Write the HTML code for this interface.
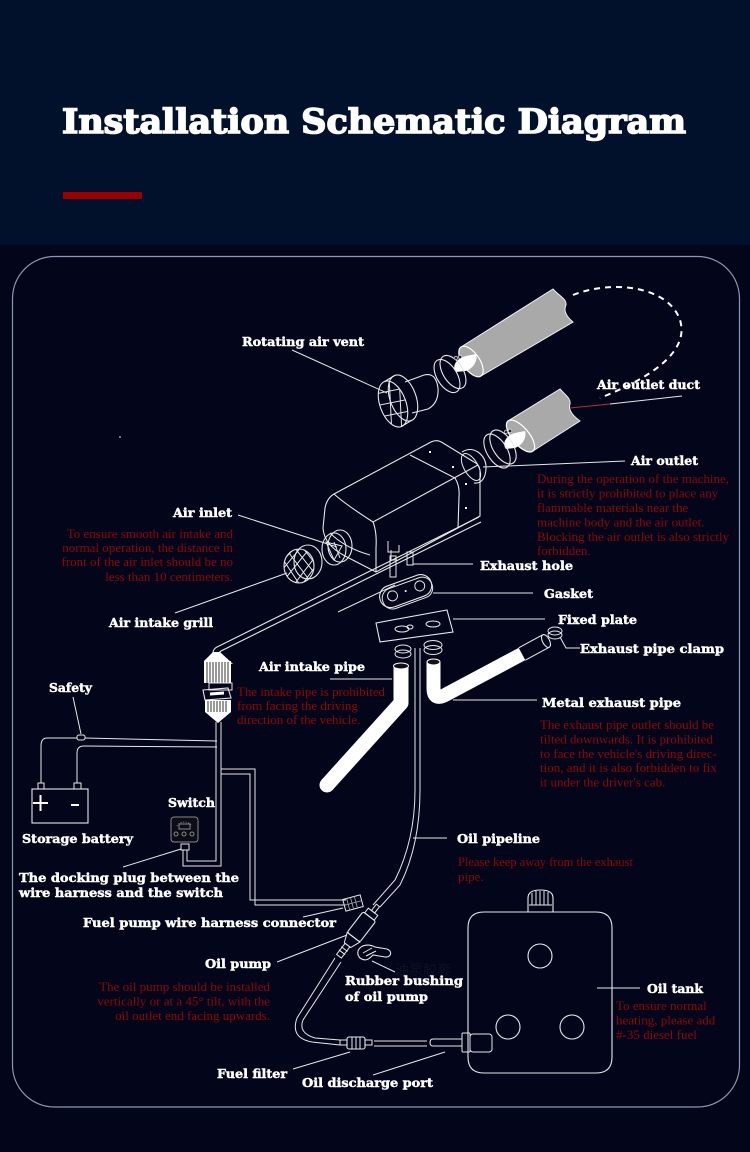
<!DOCTYPE html>
<html><head><meta charset="utf-8">
<style>
html,body{margin:0;padding:0;background:#03051a;}
svg{display:block}
.w{font-family:"DejaVu Serif","Liberation Serif",serif;font-weight:bold;fill:#ffffff;font-size:12px;stroke:#ffffff;stroke-width:0.45px}
.r{font-family:"Liberation Serif",serif;fill:#900606;font-size:13px}
.l{stroke:#e8e8e8;stroke-width:1.1;fill:none}
.t{stroke:#e8e8e8;stroke-width:1;fill:none}
</style></head><body>
<svg width="750" height="1152" viewBox="0 0 750 1152" xmlns="http://www.w3.org/2000/svg">
<defs>
<clipPath id="vc"><ellipse cx="393" cy="404" rx="13" ry="24" transform="rotate(-20 393 404)"/></clipPath>
<clipPath id="gc"><ellipse cx="299" cy="566" rx="15" ry="17"/></clipPath>
</defs>
<rect width="750" height="1152" fill="#03051a"/>
<rect width="750" height="245" fill="#01102b"/>
<text x="62" y="133" font-family="DejaVu Serif, Liberation Serif, serif" font-weight="bold" font-size="34" fill="#fff" stroke="#fff" stroke-width="1.6" textLength="624" lengthAdjust="spacingAndGlyphs">Installation Schematic Diagram</text>
<rect x="63" y="192" width="79" height="7" fill="#9b0000"/>
<rect x="12.5" y="256.5" width="727" height="850.5" rx="42" fill="none" stroke="#8d96b3" stroke-width="1.2"/>

<!-- dashed duct loop -->
<path d="M573,295 C610,280 668,285 680,320 C690,352 650,378 600,398" fill="none" stroke="#fff" stroke-width="2" stroke-dasharray="6 5"/>

<!-- upper duct -->
<path d="M461,347 L553,289 C559,296 567,299 566,305 C563,311 567,317 573,322 L481,376 Z" fill="#a9a9a9" stroke="#f0f0f0" stroke-width="1"/>
<ellipse cx="471" cy="361.5" rx="8.5" ry="17.6" transform="rotate(-34.6 471 361.5)" fill="#a9a9a9" stroke="#fff" stroke-width="1.2"/>
<path d="M456,372 C451,366 457,358 466,356 L476,354 C478,360 474,368 466,371 Z" fill="#fff"/>
<!-- upper ring -->
<ellipse cx="447" cy="376" rx="10" ry="18.5" transform="rotate(-32 447 376)" class="l" stroke-width="1.4"/>
<ellipse cx="453" cy="372" rx="10" ry="18.5" transform="rotate(-32 453 372)" class="l"/>
<circle cx="456" cy="358" r="1.8" fill="#222" stroke="#fff" stroke-width="0.6"/>
<circle cx="460" cy="357" r="1.8" fill="#222" stroke="#fff" stroke-width="0.6"/>

<!-- rotating air vent -->
<path d="M405,382 L424,375 Q436,372 438,388 Q439,403 428,409 L412,413" class="l"/>
<ellipse cx="403" cy="398" rx="13" ry="24" transform="rotate(-20 403 398)" fill="#03051a" class="l"/>
<line x1="384.8" y1="381.4" x2="394.8" y2="375.4" class="l"/>
<line x1="401.2" y1="426.6" x2="411.2" y2="420.6" class="l"/>
<ellipse cx="393" cy="404" rx="13" ry="24" transform="rotate(-20 393 404)" fill="#03051a" class="l"/>
<g clip-path="url(#vc)" class="t">
<path d="M370,395 L415,386 M370,407 L415,398 M370,419 L415,410 M389,375 L392,435 M399,375 L402,435"/>
</g>

<!-- lower duct -->
<path d="M508,421 L560,389 C565,395 571,398 570,404 C568,410 573,416 580,421 L533,451 Z" fill="#a9a9a9" stroke="#f0f0f0" stroke-width="1"/>
<ellipse cx="520.5" cy="436" rx="8.5" ry="19.5" transform="rotate(-39.8 520.5 436)" fill="#a9a9a9" stroke="#fff" stroke-width="1.2"/>
<path d="M506,449 C501,443 507,435 515,433 L525,431 C527,437 523,445 515,448 Z" fill="#fff"/>
<ellipse cx="497" cy="451" rx="10" ry="19" transform="rotate(-32 497 451)" class="l" stroke-width="1.4"/>
<ellipse cx="503" cy="447" rx="10" ry="19" transform="rotate(-32 503 447)" class="l"/>
<circle cx="506" cy="432" r="1.8" fill="#222" stroke="#fff" stroke-width="0.6"/>
<circle cx="510" cy="431" r="1.8" fill="#222" stroke="#fff" stroke-width="0.6"/>

<!-- heater body -->
<path d="M334,494 Q327,498 325,508 L323,528 Q324,545 345,556 L376,572 L480,516 L480,470 Q479,464 474,462 L443,443 Q437,439 431,442 Z" class="l"/>
<path d="M334,494 Q345,504 373,522 L478,465" class="l"/>
<path d="M373,522 Q377,532 376,548 L376,572" class="l"/>
<path d="M410,455 L455,478 Q460,486 459,497 L458,528" class="l"/>
<path d="M330,533 Q345,548 370,555" class="t"/>
<rect x="429" y="451" width="2" height="2" fill="#fff"/>
<rect x="452" y="466" width="2" height="2" fill="#fff"/>
<rect x="465" y="483" width="2" height="2" fill="#fff"/>
<rect x="465" y="507" width="2" height="2" fill="#fff"/>
<!-- outlet collar -->
<path d="M462,452 Q470,447 478,452 Q489,460 485,475 Q482,484 474,483" class="l"/>
<ellipse cx="471" cy="467" rx="7" ry="15" transform="rotate(-30 471 467)" class="t"/>
<!-- bottom details -->
<path d="M388,541 V552 H399 V545" class="t"/>
<path d="M391,550 V560 H397" class="t"/>
<rect x="390" y="556" width="6" height="21" class="t"/>
<rect x="407" y="552" width="6" height="13" class="t"/>
<line x1="413" y1="564" x2="473" y2="564" class="t"/>
<!-- air inlet ring -->
<ellipse cx="340" cy="546" rx="12" ry="16" class="l"/>
<ellipse cx="334" cy="549" rx="12" ry="16" fill="#03051a" class="l"/>
<path d="M326,542 L342,546 L334,560 Z M334,542 L340,558" class="t"/>
<!-- grill -->
<ellipse cx="308" cy="562" rx="14" ry="17" class="l"/>
<ellipse cx="299" cy="566" rx="15" ry="17" fill="#03051a" class="l"/>
<g clip-path="url(#gc)" class="t">
<path d="M280,555 L300,585 M286,549 L316,589 M294,547 L320,580 M302,547 L322,572 M278,565 L292,587 M318,553 L290,590 M310,548 L280,585 M302,546 L278,575 M318,563 L298,590 M296,547 L278,565"/>
</g>

<!-- long harness line -->
<path d="M479,517 L217,647 Q213,649 213,653" class="l"/>
<path d="M481,522 L221,651 Q218,653 218,656" class="l"/>
<line x1="338" y1="612" x2="395" y2="585" class="t"/>

<!-- gasket -->
<g transform="rotate(-20 406 592)">
<rect x="379" y="580" width="54" height="22" rx="11" class="l"/>
<rect x="381" y="583" width="52" height="21" rx="10" class="t"/>
<circle cx="392" cy="591" r="5" class="t"/>
<circle cx="421" cy="591" r="5" class="t"/>
<circle cx="406" cy="591" r="1" fill="#fff"/>
</g>
<line x1="433" y1="593" x2="533" y2="593" class="t"/>
<!-- fixed plate -->
<path d="M376,623 L447,610 L453,632 L380,642 Z" class="l"/>
<ellipse cx="402" cy="629" rx="7" ry="3" class="t"/>
<ellipse cx="410" cy="627" rx="3" ry="2" class="t"/>
<ellipse cx="433" cy="624" rx="7" ry="3" class="t"/>
<line x1="453" y1="619" x2="545" y2="619" class="t"/>

<!-- clamps -->
<ellipse cx="403" cy="649" rx="8" ry="4" class="t"/>
<ellipse cx="403" cy="654" rx="8" ry="4" class="t"/>
<ellipse cx="433" cy="645" rx="9" ry="4.5" class="t"/>
<ellipse cx="433" cy="650" rx="9" ry="4.5" class="t"/>
<ellipse cx="555" cy="631" rx="7" ry="4" class="t"/>
<ellipse cx="555" cy="635" rx="7" ry="4" class="t"/>
<path d="M560,637 L566,648 H580" class="t"/>

<!-- air intake pipe -->
<path d="M401,666 V703 L327,785" stroke="#fff" stroke-width="15" stroke-linejoin="round" fill="none"/>
<circle cx="327" cy="785" r="7.5" fill="#fff"/>
<ellipse cx="401" cy="666" rx="7.5" ry="3" fill="#111" stroke="#fff"/>
<line x1="330" y1="679" x2="392" y2="679" class="t"/>

<!-- metal exhaust pipe -->
<path d="M433.5,662 V688 Q433.5,702 447,694 L522,654" stroke="#fff" stroke-width="14" fill="none"/>
<path d="M518.7,647.8 L542.7,634.8 M549.3,647.2 L525.3,660.2" class="l"/>
<ellipse cx="546" cy="641" rx="3.5" ry="7" transform="rotate(-28 546 641)" class="l"/>
<ellipse cx="433.5" cy="662" rx="6.5" ry="3" fill="#111" stroke="#fff"/>
<line x1="453" y1="700" x2="537" y2="700" class="t"/>

<!-- oil pipeline -->
<path d="M415,648 L415,790 Q415,840 395,880 L373,905" class="t"/>
<path d="M420,648 L420,790 Q420,845 400,885 L380,907" class="t"/>
<line x1="413" y1="838" x2="447" y2="838" class="t"/>

<!-- connector -->
<path d="M213,652 L220,652 L233,664 L204,661 Z" fill="#fff"/>
<rect x="204" y="661" width="27" height="22" fill="#fff"/>
<path d="M207,662 V683 M210,662 V683 M213,662 V683 M216,662 V683 M219,662 V683 M222,662 V683 M225,662 V683 M228,662 V683" stroke="#333" stroke-width="1"/>
<rect x="209" y="683" width="23" height="7" class="t"/>
<path d="M203,690 L228,688 L231,698 L205,700 Z" class="l"/>
<path d="M210,694 L224,693" stroke="#fff" stroke-width="3"/>
<rect x="205" y="700" width="26" height="12" fill="#fff"/>
<path d="M208,701 V712 M211,701 V712 M214,701 V712 M217,701 V712 M220,701 V712 M223,701 V712 M226,701 V712" stroke="#333" stroke-width="1"/>
<path d="M205,712 L231,712 L218,723 Z" fill="#fff"/>

<!-- main wires -->
<path d="M216,722 V861 H187 V850" class="t"/>
<path d="M221,722 V866 H183 V850" class="t"/>
<path d="M217,741 L85,738 M77,738 L47,738 Q41,738 41,746 V783" class="t"/>
<rect x="77" y="735" width="8" height="5" rx="2" class="t"/>
<path d="M217,747 L84,746 Q77,746 77,753 V783" class="t"/>
<line x1="73" y1="697" x2="81" y2="734" class="t"/>
<!-- fuel pump harness -->
<path d="M221,769 H255 V905 H346" class="t"/>
<path d="M221,774 H250 V900 H346" class="t"/>

<!-- battery -->
<rect x="32" y="789" width="56" height="34" class="l"/>
<rect x="38" y="783" width="6" height="6" class="t"/>
<rect x="74" y="783" width="7" height="6" class="t"/>
<path d="M33,803 H48 M40.5,795 V811" stroke="#fff" stroke-width="2"/>
<path d="M71,805 H79" stroke="#fff" stroke-width="2"/>

<!-- switch -->
<rect x="171" y="817" width="27" height="25" rx="3" fill="#0a0c18" stroke="#888" stroke-width="1"/>
<path d="M177,826 A8 6 0 0 1 192,826" fill="none" stroke="#888" stroke-dasharray="1 1.5"/>
<rect x="179" y="824" width="11" height="5" fill="none" stroke="#888"/>
<circle cx="176" cy="834" r="2" fill="none" stroke="#888"/>
<circle cx="184" cy="834" r="2" fill="none" stroke="#888"/>
<circle cx="192" cy="834" r="2" fill="none" stroke="#888"/>
<rect x="181" y="844" width="8" height="6" class="t"/>
<line x1="123" y1="867" x2="181" y2="849" class="t"/>

<!-- fuel pump wire connector -->
<g transform="translate(353,903) rotate(-15)">
<rect x="-9" y="-6" width="18" height="12" class="t"/>
<path d="M-5,-6 V6 M-1,-6 V6 M3,-6 V6 M-9,0 H9" stroke="#aaa" stroke-width="0.8"/>
</g>
<line x1="303" y1="917" x2="343" y2="908" class="t"/>

<!-- oil pump -->
<g transform="translate(356,934) rotate(37.5)">
<rect x="-2" y="-36" width="4" height="8" class="t"/>
<rect x="-6" y="-28" width="12" height="6" class="t"/>
<rect x="-8" y="-22" width="16" height="26" rx="2" class="l"/>
<path d="M-8,4 L8,4 L4,14 L-4,14 Z" class="t"/>
<rect x="-3" y="14" width="6" height="14" class="t"/>
<path d="M-4,19 H4 M-4,23 H4" class="t"/>
</g>
<line x1="277" y1="962" x2="347" y2="935" class="t"/>
<!-- rubber bushing -->
<path d="M360,958 C353,950 364,941 375,947 L387,949 C393,951 391,958 385,957 L373,955 C369,959 366,962 360,958 Z" class="l"/>
<path d="M363,953 L372,948 M366,956 L376,951" class="t"/>
<line x1="372" y1="961" x2="395" y2="972" class="t"/>
<text x="395" y="975" font-family="Noto Sans CJK SC, sans-serif" font-size="14" fill="#0e1122">油泵胶套</text>

<!-- lower oil line -->
<path d="M335,958 L297,1018 Q290,1038 312,1042 L340,1045" class="t"/>
<path d="M341,962 L303,1020 Q298,1033 315,1038 L340,1040" class="t"/>
<!-- fuel filter -->
<rect x="340" y="1040" width="7" height="5" class="t"/>
<rect x="347" y="1037" width="18" height="12" rx="2" class="l"/>
<path d="M352,1037 V1049 M356,1037 V1049 M360,1037 V1049" class="t"/>
<rect x="365" y="1040" width="7" height="5" class="t"/>
<line x1="374" y1="1041" x2="427" y2="1041" class="t"/>
<line x1="374" y1="1046" x2="427" y2="1046" class="t"/>
<!-- discharge port -->
<path d="M462,1039 H433 Q430,1039 430,1042.5 Q430,1046 433,1046 H462" class="t"/>
<rect x="462" y="1033" width="8" height="19" rx="1" class="t"/>
<rect x="470" y="1034" width="22" height="18" rx="3" class="t"/>
<line x1="293" y1="1069" x2="350" y2="1052" class="t"/>
<line x1="373" y1="1075" x2="445" y2="1052" class="t"/>

<!-- oil tank -->
<path d="M484,912 H596 Q612,912 612,928 V1057 Q612,1073 596,1073 H484 Q468,1073 468,1057 V928 Q468,912 484,912 Z" class="l"/>
<path d="M528,912 V898 Q528,890 540.5,890 Q553,890 553,898 V912" class="l"/>
<path d="M532,893 V905 M536,891 V905 M540,891 V905 M544,891 V905 M548,892 V905 M529,905 H552" class="t"/>
<circle cx="540" cy="956" r="12" class="l"/>
<circle cx="508" cy="1027" r="12" class="l"/>
<circle cx="572" cy="1027" r="12" class="l"/>
<line x1="597" y1="988" x2="640" y2="988" class="t"/>

<!-- leaders -->
<line x1="292" y1="350" x2="387" y2="393" class="t"/>
<line x1="570" y1="408" x2="610" y2="404" stroke="#b03030" stroke-width="1"/>
<line x1="610" y1="404" x2="682" y2="396" class="t"/>
<line x1="483" y1="467" x2="625" y2="461" class="t"/>
<line x1="238" y1="515" x2="337" y2="547" class="t"/>
<line x1="175" y1="613" x2="287" y2="573" class="t"/>
<circle cx="120" cy="437" r="0.8" fill="#fff"/>

<!-- white labels -->
<text class="w" x="242" y="346" textLength="122" lengthAdjust="spacingAndGlyphs">Rotating air vent</text>
<text class="w" x="597" y="389" textLength="103" lengthAdjust="spacingAndGlyphs">Air outlet duct</text>
<text class="w" x="631" y="465" textLength="67" lengthAdjust="spacingAndGlyphs">Air outlet</text>
<text class="w" x="173" y="517" textLength="59" lengthAdjust="spacingAndGlyphs">Air inlet</text>
<text class="w" x="480" y="570" textLength="93" lengthAdjust="spacingAndGlyphs">Exhaust hole</text>
<text class="w" x="544" y="598" textLength="49" lengthAdjust="spacingAndGlyphs">Gasket</text>
<text class="w" x="558" y="624" textLength="79" lengthAdjust="spacingAndGlyphs">Fixed plate</text>
<text class="w" x="580" y="653" textLength="144" lengthAdjust="spacingAndGlyphs">Exhaust pipe clamp</text>
<text class="w" x="109" y="627" textLength="104" lengthAdjust="spacingAndGlyphs">Air intake grill</text>
<text class="w" x="259" y="671" textLength="106" lengthAdjust="spacingAndGlyphs">Air intake pipe</text>
<text class="w" x="49" y="692" textLength="43" lengthAdjust="spacingAndGlyphs">Safety</text>
<text class="w" x="542" y="707" textLength="139" lengthAdjust="spacingAndGlyphs">Metal exhaust pipe</text>
<text class="w" x="168" y="807" textLength="47" lengthAdjust="spacingAndGlyphs">Switch</text>
<text class="w" x="22" y="843" textLength="111" lengthAdjust="spacingAndGlyphs">Storage battery</text>
<text class="w" x="457" y="843" textLength="83" lengthAdjust="spacingAndGlyphs">Oil pipeline</text>
<text class="w" x="19" y="882" textLength="220" lengthAdjust="spacingAndGlyphs">The docking plug between the</text>
<text class="w" x="19" y="897" textLength="204" lengthAdjust="spacingAndGlyphs">wire harness and the switch</text>
<text class="w" x="83" y="927" textLength="253" lengthAdjust="spacingAndGlyphs">Fuel pump wire harness connector</text>
<text class="w" x="205" y="968" textLength="66" lengthAdjust="spacingAndGlyphs">Oil pump</text>
<text class="w" x="345" y="985" textLength="118" lengthAdjust="spacingAndGlyphs">Rubber bushing</text>
<text class="w" x="345" y="1001" textLength="83" lengthAdjust="spacingAndGlyphs">of oil pump</text>
<text class="w" x="647" y="993" textLength="56" lengthAdjust="spacingAndGlyphs">Oil tank</text>
<text class="w" x="217" y="1078" textLength="70" lengthAdjust="spacingAndGlyphs">Fuel filter</text>
<text class="w" x="302" y="1087" textLength="131" lengthAdjust="spacingAndGlyphs">Oil discharge port</text>

<!-- red notes -->
<g class="r">
<text x="537" y="483" textLength="192" lengthAdjust="spacingAndGlyphs">During the operation of the machine,</text>
<text x="537" y="497.5">it is strictly prohibited to place any</text>
<text x="537" y="512">flammable materials near the</text>
<text x="537" y="526.5">machine body and the air outlet.</text>
<text x="537" y="541">Blocking the air outlet is also strictly</text>
<text x="537" y="555">forbidden.</text>

<text x="233" y="538" text-anchor="end">To ensure smooth air intake and</text>
<text x="233" y="552" text-anchor="end">normal operation, the distance in</text>
<text x="233" y="566" text-anchor="end">front of the air inlet should be no</text>
<text x="233" y="581" text-anchor="end">less than 10 centimeters.</text>

<text x="237" y="696" textLength="148" lengthAdjust="spacingAndGlyphs">The intake pipe is prohibited</text>
<text x="237" y="710">from facing the driving</text>
<text x="237" y="724">direction of the vehicle.</text>

<text x="540" y="729" textLength="174" lengthAdjust="spacingAndGlyphs">The exhaust pipe outlet should be</text>
<text x="540" y="743.5">tilted downwards. It is prohibited</text>
<text x="540" y="758">to face the vehicle's driving direc-</text>
<text x="540" y="772">tion, and it is also forbidden to fix</text>
<text x="540" y="786.5">it under the driver's cab.</text>

<text x="458" y="866" textLength="175" lengthAdjust="spacingAndGlyphs">Please keep away from the exhaust</text>
<text x="458" y="881">pipe.</text>

<text x="270" y="991" text-anchor="end">The oil pump should be installed</text>
<text x="270" y="1005.5" text-anchor="end">vertically or at a 45° tilt, with the</text>
<text x="270" y="1020" text-anchor="end">oil outlet end facing upwards.</text>

<text x="616" y="1010">To ensure normal</text>
<text x="616" y="1024.5">heating, please add</text>
<text x="616" y="1039">#-35 diesel fuel</text>
</g>
</svg>
</body></html>
